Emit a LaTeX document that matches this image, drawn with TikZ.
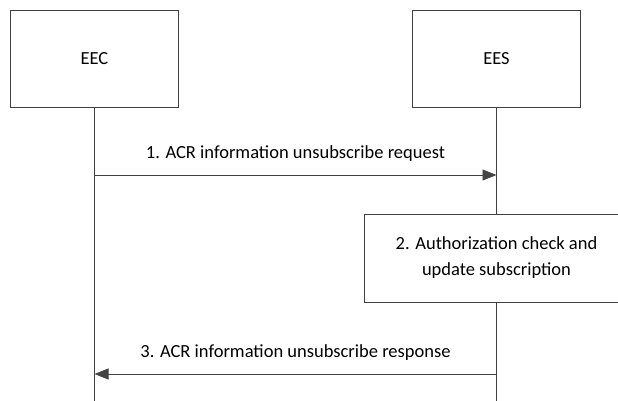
\documentclass[tikz,border=0pt]{standalone}
\usepackage{fontspec}
\setmainfont{Carlito}
\usepackage{tikz}
\usetikzlibrary{arrows.meta, calc}
\definecolor{sq-line}{RGB}{64,64,64}
\definecolor{sq-tip}{RGB}{68,68,68}
\tikzset{
  sq@entity/.style={
    draw=sq-line, line width=0.9pt, fill=white,
    minimum width=168pt, minimum height=97pt,
    align=center, font=\fontsize{18.5}{22}\selectfont
  },
  sq@proc/.style={
    draw=sq-line, line width=0.9pt, fill=white,
    minimum width=264pt, minimum height=88pt,
    align=center, font=\fontsize{18.5}{26}\selectfont
  },
  sq@life/.style={draw=sq-line, line width=0.9pt},
  sq@msg/.style={-{Triangle[length=14pt, width=11pt, color=sq-tip]}, draw=sq-line, line width=0.9pt},
  sq@lbl/.style={font=\fontsize{18.5}{22}\selectfont, text=black, midway, above=13pt, inner sep=0pt},
}
\begin{document}
\begin{tikzpicture}[x=1pt, y=-1pt]
  \clip (0,0) rectangle (618,401);
  \useasboundingbox (0,0) rectangle (618,401);
  \node[sq@entity] (eec) at (94.5,58.5) {EEC};
  \node[sq@entity] (ees) at (496.5,58.5) {EES};
  \coordinate (eecEnd) at (eec.south |- 0,405);
  \coordinate (eesEnd) at (ees.south |- 0,405);
  \draw[sq@life] (eec.south) -- (eecEnd);
  \draw[sq@life] (ees.south) -- (eesEnd);
  \node[sq@proc] (auth) at (ees.south |- 0,258) {2. Authorization check and\\update subscription};
  \coordinate (req0) at (eec.south |- 0,175);
  \coordinate (req1) at (ees.south |- 0,175);
  \coordinate (rsp0) at (ees.south |- 0,374);
  \coordinate (rsp1) at (eec.south |- 0,374);
  \draw[sq@msg] (req0) -- node[sq@lbl]{1. ACR information unsubscribe request} (req1);
  \draw[sq@msg] (rsp0) -- node[sq@lbl]{3. ACR information unsubscribe response} (rsp1);
\end{tikzpicture}
\end{document}
